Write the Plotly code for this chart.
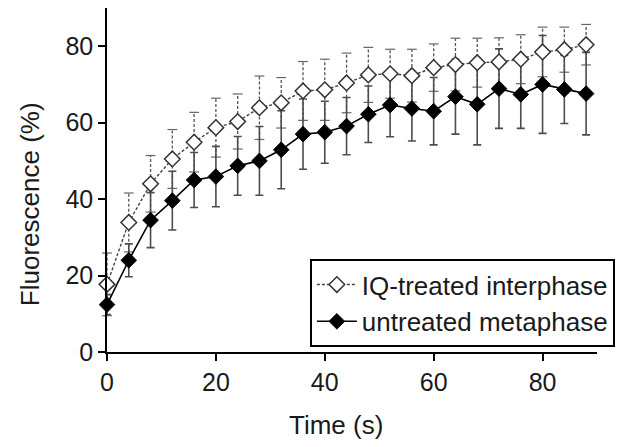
import plotly.graph_objects as go

# time points (s)
time_s = list(range(0, 89, 4))

# IQ-treated interphase (open diamonds, dashed)
iq_mean = [17.7, 33.9, 44.0, 50.5, 54.9, 58.7, 60.3, 63.9, 65.2, 68.3, 68.6, 70.4,
           72.5, 72.8, 72.3, 74.4, 75.2, 75.7, 75.9, 76.6, 78.5, 79.1, 80.4]
iq_sd = [8.2, 7.7, 7.4, 7.7, 7.8, 7.7, 7.2, 8.3, 6.6, 7.7, 8.0, 7.8,
         7.2, 6.4, 6.9, 6.2, 6.9, 6.4, 6.3, 6.4, 6.5, 5.9, 5.3]

# untreated metaphase (filled diamonds, solid)
meta_mean = [12.4, 24.0, 34.5, 39.6, 45.0, 45.9, 48.7, 50.0, 52.9, 57.0, 57.5, 59.1,
             62.2, 64.6, 63.7, 63.0, 66.8, 64.8, 68.9, 67.4, 70.0, 68.7, 67.6]
meta_sd = [2.6, 4.3, 7.2, 7.7, 7.2, 7.9, 7.7, 9.0, 10.2, 9.2, 8.1, 7.5,
           7.4, 8.3, 8.5, 8.8, 9.8, 10.6, 10.4, 8.9, 12.8, 8.9, 10.8]

FONT = "Liberation Sans, Arial, sans-serif"

fig = go.Figure()

# dashed error stems for the IQ series (plotly error bars can't be dashed)
stem_x, stem_y = [], []
for t, m, s in zip(time_s, iq_mean, iq_sd):
    stem_x += [t, t, None]
    stem_y += [m - s, m + s, None]
fig.add_trace(go.Scatter(x=stem_x, y=stem_y, mode='lines',
                         line=dict(color='#555555', width=1.3, dash='3px,2px'),
                         showlegend=False, hoverinfo='skip', cliponaxis=False))
# caps
fig.add_trace(go.Scatter(x=time_s + time_s,
                         y=[m + s for m, s in zip(iq_mean, iq_sd)] + [m - s for m, s in zip(iq_mean, iq_sd)],
                         mode='markers',
                         marker=dict(symbol='line-ew', size=7, line=dict(color='#666666', width=1.2)),
                         showlegend=False, hoverinfo='skip', cliponaxis=False))

# untreated metaphase
fig.add_trace(go.Scatter(
    x=time_s, y=meta_mean, mode='lines+markers', name='untreated metaphase',
    line=dict(color='black', width=1.6),
    marker=dict(symbol='diamond', size=12, color='black', line=dict(color='black', width=1)),
    error_y=dict(type='data', array=meta_sd, visible=True, color='#4d4d4d', thickness=1.6, width=4),
    cliponaxis=False,
))

# IQ-treated interphase
fig.add_trace(go.Scatter(
    x=time_s, y=iq_mean, mode='lines+markers', name='IQ-treated interphase',
    line=dict(color='#444444', width=1.4, dash='3px,2px'),
    marker=dict(symbol='diamond', size=12, color='white', line=dict(color='#333333', width=1.5)),
    cliponaxis=False,
))

# page body has an 8px margin, so the margins are shifted by that much
fig.update_layout(
    width=627, height=447,
    margin=dict(l=99, r=38, t=0, b=103),
    paper_bgcolor='white', plot_bgcolor='white',
    font=dict(family=FONT, color='#1a1a1a', size=25),
    showlegend=True,
    legend=dict(
        x=0.414, y=0.27, xanchor='left', yanchor='top',
        bgcolor='white', bordercolor='black', borderwidth=2,
        font=dict(size=26), traceorder='reversed',
        itemwidth=40, tracegroupgap=0,
    ),
    annotations=[
        dict(text='Time (s)', xref='paper', yref='paper', x=0.467, y=-0.212,
             xanchor='center', yanchor='middle', showarrow=False, font=dict(size=26)),
        dict(text='Fluorescence (%)', xref='paper', yref='paper', x=-0.157, y=0.43,
             xanchor='center', yanchor='middle', textangle=-90, showarrow=False,
             font=dict(size=26)),
    ],
)
fig.update_xaxes(
    range=[0, 90], tickvals=[0, 20, 40, 60, 80], automargin=False,
    showline=True, linecolor='black', linewidth=1.5,
    ticks='outside', ticklen=7, tickwidth=1.5, tickcolor='black',
    showgrid=False, zeroline=False, tickfont=dict(size=25),
)
fig.update_yaxes(
    range=[0, 90], tickvals=[0, 20, 40, 60, 80], automargin=False,
    showline=True, linecolor='black', linewidth=1.5,
    ticks='outside', ticklen=7, tickwidth=1.5, tickcolor='black',
    showgrid=False, zeroline=False, tickfont=dict(size=25),
)

fig.write_html("out.html")
